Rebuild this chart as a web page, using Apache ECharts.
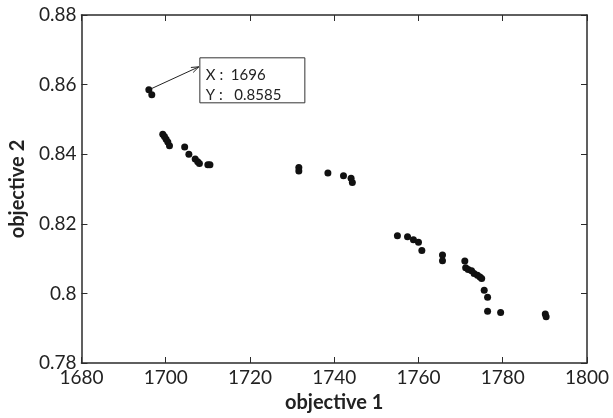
<!DOCTYPE html>
<html>
<head>
<meta charset="utf-8">
<script src="https://cdn.jsdelivr.net/npm/echarts@6/dist/echarts.min.js"></script>
<style>
  html, body { margin: 0; padding: 0; background: #fff; }
  #main { width: 613px; height: 418px; }
</style>
</head>
<body>
<div id="main"></div>
<script>
// pareto front points
var obj1 = [1696, 1696.7, 1699.3, 1699.7, 1700.1, 1700.5, 1700.9, 1704.5, 1705.5, 1707.0,
  1707.6, 1708.0, 1710.0, 1710.5, 1731.6, 1731.6, 1738.5, 1742.2, 1744.0, 1744.3,
  1755.0, 1757.4, 1758.8, 1760.0, 1760.8, 1765.7, 1765.7, 1771.0, 1771.2, 1771.8,
  1772.6, 1773.2, 1774.0, 1774.6, 1775.0, 1775.6, 1776.4, 1776.4, 1779.5, 1790.1, 1790.3];
var obj2 = [0.8585, 0.8571, 0.8457, 0.8451, 0.8443, 0.8435, 0.8424, 0.8421, 0.8400, 0.8386,
  0.8378, 0.8373, 0.8370, 0.8370, 0.8362, 0.8352, 0.8346, 0.8338, 0.8331, 0.8319,
  0.8166, 0.8163, 0.8154, 0.8147, 0.8123, 0.8110, 0.8094, 0.8093, 0.8074, 0.8069,
  0.8065, 0.8057, 0.8052, 0.8047, 0.8043, 0.8009, 0.7989, 0.7949, 0.7945, 0.7941, 0.7933];
var xTicks = [1680, 1700, 1720, 1740, 1760, 1780, 1800];
var yTicks = [0.78, 0.80, 0.82, 0.84, 0.86, 0.88];
var picked = [1696, 0.8585]; // data cursor point

var pts = [];
for (var i = 0; i < obj1.length; i++) {
  pts.push([obj1[i], obj2[i]]);
}

var axisCol = '#2b2b2b';
var font = 'Lato, "Open Sans", sans-serif';

function xAxis(pos, show) {
  return {
    type: 'value', position: pos,
    min: xTicks[0], max: xTicks[xTicks.length - 1], interval: 20,
    name: show ? 'objective 1' : '', nameLocation: 'middle', nameGap: 30,
    nameTextStyle: { fontFamily: font, fontSize: 20, fontWeight: 'bold', color: '#222' },
    axisLine: { show: true, onZero: false, lineStyle: { color: axisCol, width: 1.5 } },
    axisTick: { show: true, inside: true, length: 6, lineStyle: { color: axisCol } },
    axisLabel: { show: show, fontFamily: font, fontSize: 19, color: '#222', margin: 5,
      formatter: function (v) { return String(v); } },
    splitLine: { show: false }
  };
}
function yAxis(pos, show) {
  return {
    type: 'value', position: pos,
    min: yTicks[0], max: yTicks[yTicks.length - 1], interval: 0.02,
    name: show ? 'objective 2' : '', nameLocation: 'middle', nameGap: 50,
    nameTextStyle: { fontFamily: font, fontSize: 20, fontWeight: 'bold', color: '#222' },
    axisLine: { show: true, onZero: false, lineStyle: { color: axisCol, width: 1.5 } },
    axisTick: { show: true, inside: true, length: 6, lineStyle: { color: axisCol } },
    axisLabel: { show: show, fontFamily: font, fontSize: 19, color: '#222', margin: 5 },
    splitLine: { show: false }
  };
}

var myChart = echarts.init(document.getElementById('main'));
myChart.setOption({
  animation: false,
  grid: { left: 78, right: 26, top: 15, bottom: 53 },
  xAxis: [xAxis('bottom', true), xAxis('top', false)],
  yAxis: [yAxis('left', true), yAxis('right', false)],
  series: [{
    type: 'scatter',
    data: pts,
    symbol: 'circle',
    symbolSize: 7,
    itemStyle: { color: '#111', opacity: 1 }
  }]
});

// data tip box with arrow, anchored on the picked point
var p = myChart.convertToPixel({ xAxisIndex: 0, yAxisIndex: 0 }, picked);
var tip = [p[0] + 50, p[1] - 23];
var ang = Math.atan2(tip[1] - p[1], tip[0] - p[0]);
var ah = 8;
var a1 = [tip[0] - ah * Math.cos(ang - 0.35), tip[1] - ah * Math.sin(ang - 0.35)];
var a2 = [tip[0] - ah * Math.cos(ang + 0.35), tip[1] - ah * Math.sin(ang + 0.35)];
var bx = tip[0] + 1, by = tip[1] - 9;
myChart.setOption({
  graphic: [
    { type: 'line', shape: { x1: p[0], y1: p[1], x2: tip[0], y2: tip[1] }, style: { stroke: '#222', lineWidth: 1 } },
    { type: 'polyline', shape: { points: [a1, tip, a2] }, style: { stroke: '#222', lineWidth: 1, fill: null } },
    { type: 'rect', shape: { x: bx, y: by, width: 105, height: 45 }, style: { fill: '#fff', stroke: '#333', lineWidth: 1 } },
    { type: 'text', x: bx + 6, y: by + 17, style: { text: 'X :  ' + picked[0], font: '15px ' + font, fill: '#222', textVerticalAlign: 'middle' } },
    { type: 'text', x: bx + 6, y: by + 37, style: { text: 'Y :   ' + picked[1], font: '15px ' + font, fill: '#222', textVerticalAlign: 'middle' } }
  ]
});
</script>
</body>
</html>
